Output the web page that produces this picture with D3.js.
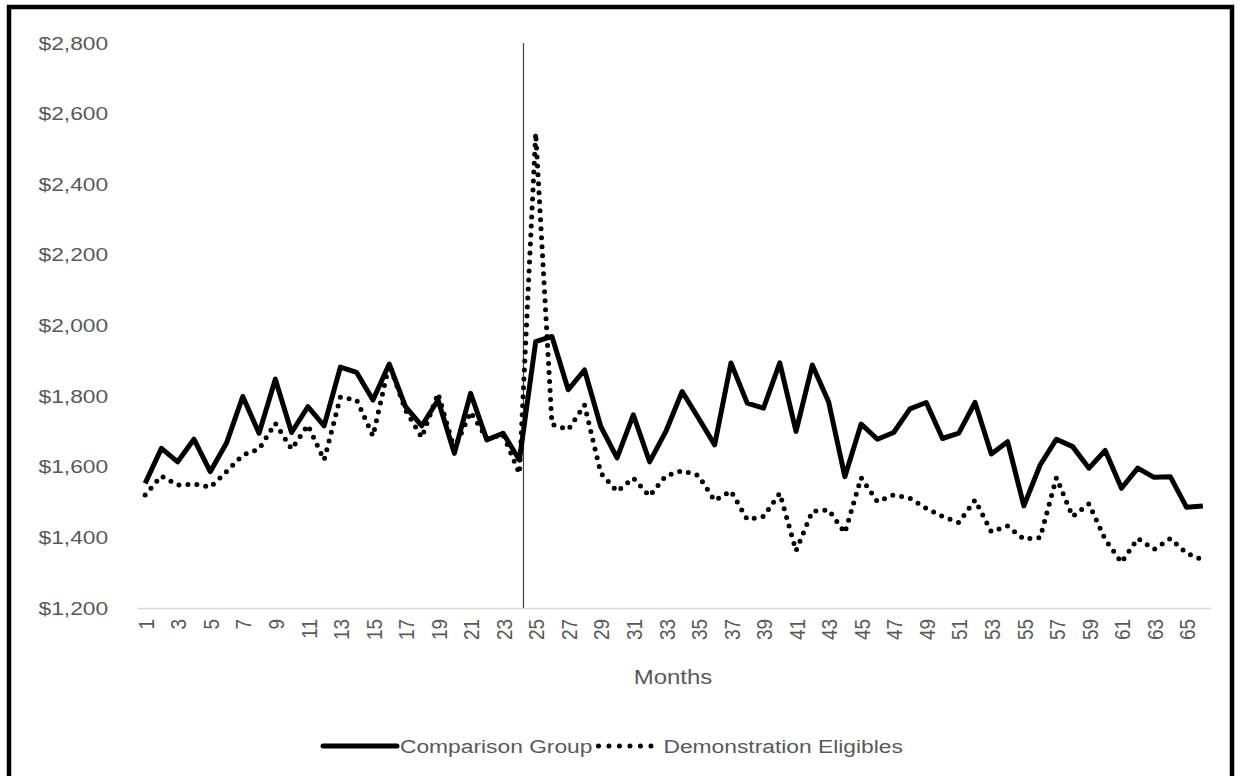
<!DOCTYPE html>
<html>
<head>
<meta charset="utf-8">
<script src="https://cdn.jsdelivr.net/npm/d3@7"></script>
<style>
  body { margin: 0; background: #fff; }
  text { font-family: "Liberation Sans", Arial, sans-serif; fill: #595959; }
</style>
</head>
<body>
<div id="chart"></div>
<script>
// months on the x axis
var months = d3.range(1, 67);
var monthTicks = months.filter(function(m) { return m % 2 == 1; });
var yTicks = [1200, 1400, 1600, 1800, 2000, 2200, 2400, 2600, 2800];
var interventionMonth = 24.25;

// monthly spending
var comparison = [1553, 1652, 1614, 1678, 1586, 1667, 1799, 1695, 1848, 1697,
  1770, 1716, 1882, 1867, 1789, 1891, 1770, 1716, 1789, 1638,
  1808, 1676, 1695, 1619, 1954, 1969, 1818, 1874, 1714, 1625,
  1747, 1614, 1700, 1813, 1738, 1662, 1894, 1780, 1766, 1894,
  1700, 1888, 1784, 1572, 1721, 1678, 1697, 1764, 1782, 1680,
  1695, 1782, 1636, 1671, 1489, 1605, 1678, 1657, 1596, 1646,
  1539, 1596, 1570, 1572, 1485, 1489];
var demonstration = [1520, 1574, 1548, 1551, 1542, 1586, 1633, 1650, 1723, 1650,
  1718, 1619, 1797, 1789, 1687, 1890, 1760, 1683, 1808, 1650,
  1755, 1680, 1690, 1581, 2545, 1720, 1705, 1775, 1582, 1530,
  1568, 1517, 1574, 1589, 1575, 1504, 1531, 1451, 1459, 1525,
  1362, 1474, 1478, 1413, 1569, 1501, 1520, 1511, 1482, 1459,
  1442, 1506, 1416, 1432, 1395, 1399, 1569, 1459, 1495, 1394,
  1329, 1397, 1366, 1397, 1355, 1336];
var seriesNames = ["Comparison Group", "Demonstration Eligibles"];

var width = 1238, height = 776;
var stretch = 1.2; // text in the picture is wider than it is tall

var svg = d3.select("#chart").append("svg")
  .attr("width", width).attr("height", height);

// outer frame
svg.append("rect").attr("x", 9).attr("y", 7).attr("width", 1223).attr("height", 800)
  .attr("fill", "none").attr("stroke", "#000").attr("stroke-width", 4.5);

var x = d3.scaleLinear().domain([0.5, 66.5]).range([137, 1211]);
var y = d3.scaleLinear().domain([1200, 2800]).range([608, 43]);

// y axis (labels only)
var yAxis = svg.append("g").attr("transform", "translate(137,0)")
  .call(d3.axisLeft(y).tickValues(yTicks).tickSize(0).tickPadding(24)
    .tickFormat(function(d) { return "$" + d3.format(",")(d); }));
yAxis.select(".domain").remove();
yAxis.selectAll("text").attr("font-size", 19).style("font-family", null)
  .attr("transform", "scale(" + stretch + ",1)");

// x axis
var xAxis = svg.append("g").attr("transform", "translate(0,608)")
  .call(d3.axisBottom(x).tickValues(monthTicks).tickSize(0));
xAxis.select(".domain").attr("stroke", "#d9d9d9").attr("stroke-width", 1.5);
xAxis.selectAll("text").attr("font-size", 19)
  .attr("text-anchor", "end").attr("x", -11).attr("y", 0).attr("dy", "0.36em")
  .attr("transform", "scale(" + stretch + ",1) rotate(-90)");

svg.append("text").attr("x", 673).attr("y", 684).attr("text-anchor", "middle")
  .attr("font-size", 20).attr("transform", "translate(673,0) scale(" + stretch + ",1) translate(-673,0)")
  .text("Months");

// start of the demonstration
svg.append("line")
  .attr("x1", x(interventionMonth)).attr("x2", x(interventionMonth))
  .attr("y1", y(2800)).attr("y2", y(1200))
  .attr("stroke", "#404040").attr("stroke-width", 1.2);

var line = d3.line().x(function(d, i) { return x(months[i]); }).y(function(d) { return y(d); });

svg.append("path").datum(demonstration).attr("d", line)
  .attr("fill", "none").attr("stroke", "#000").attr("stroke-width", 5)
  .attr("stroke-linecap", "round").attr("stroke-dasharray", "0 9");

svg.append("path").datum(comparison).attr("d", line)
  .attr("fill", "none").attr("stroke", "#000").attr("stroke-width", 5)
  .attr("stroke-linejoin", "round");

// legend
var lx = 323, ly = 746;
var legend = svg.append("g");
legend.append("line").attr("x1", lx).attr("x2", lx + 74).attr("y1", ly).attr("y2", ly)
  .attr("stroke", "#000").attr("stroke-width", 5).attr("stroke-linecap", "round");
var t1 = legend.append("text").attr("font-size", 19).attr("dy", "0.36em")
  .text(seriesNames[0]);
t1.attr("transform", "translate(" + (lx + 77) + "," + ly + ") scale(" + stretch + ",1)");
var w1 = t1.node().getComputedTextLength() * stretch;
var dx = lx + 77 + w1 + 6;
legend.append("line").attr("x1", dx).attr("x2", dx + 60).attr("y1", ly).attr("y2", ly)
  .attr("stroke", "#000").attr("stroke-width", 5).attr("stroke-linecap", "round")
  .attr("stroke-dasharray", "0 10.5");
legend.append("text").attr("font-size", 19).attr("dy", "0.36em")
  .attr("transform", "translate(" + (dx + 65) + "," + ly + ") scale(" + stretch + ",1)")
  .text(seriesNames[1]);
</script>
</body>
</html>
